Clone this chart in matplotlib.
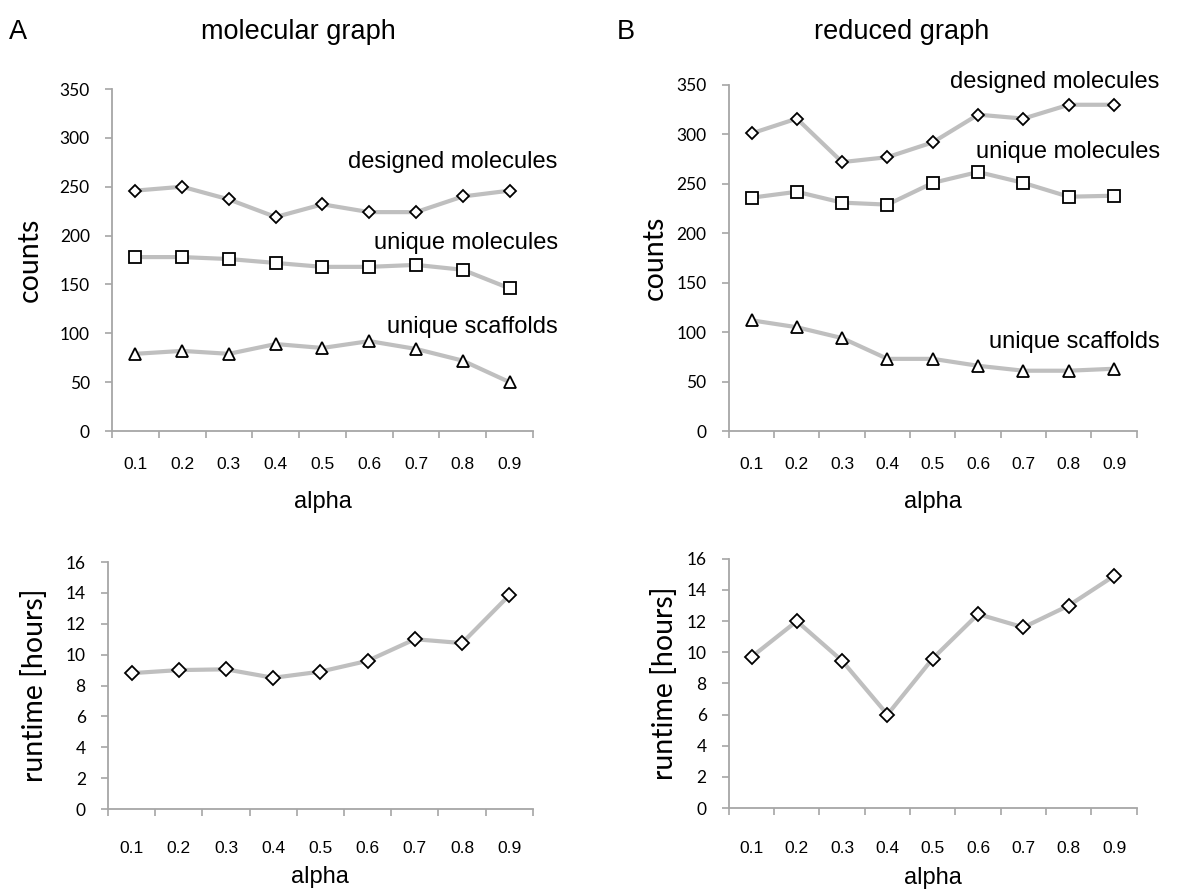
import matplotlib
matplotlib.use("Agg")
import matplotlib.pyplot as plt
import numpy as np

# alpha values on the x axis
alpha_labels = ["0.1", "0.2", "0.3", "0.4", "0.5", "0.6", "0.7", "0.8", "0.9"]

# (A) molecular graph
mol_designed = [246, 250, 237, 219, 232, 224, 224, 240, 246]
mol_unique = [178, 178, 176, 172, 168, 168, 170, 165, 146]
mol_scaffolds = [79, 82, 79, 89, 85, 92, 84, 72, 50]
mol_runtime = [8.8, 9.0, 9.05, 8.5, 8.9, 9.6, 11.0, 10.75, 13.85]

# (B) reduced graph
red_designed = [301, 316, 272, 277, 292, 320, 316, 330, 330]
red_unique = [236, 242, 231, 229, 251, 262, 251, 237, 238]
red_scaffolds = [112, 105, 94, 73, 73, 66, 61, 61, 63]
red_runtime = [9.7, 12.0, 9.45, 6.0, 9.6, 12.45, 11.6, 13.0, 14.9]

SANS = ["Liberation Sans", "DejaVu Sans"]
CAL = ["Lato", "DejaVu Sans"]

LINE_C = "#bfbfbf"
SPINE_C = "#a6a6a6"

fig = plt.figure(figsize=(11.89, 8.90), dpi=100)
fig.patch.set_facecolor("white")

x = np.arange(len(alpha_labels)) + 0.5


def style_axes(ax, ylim, yticks, ylabel, ylab_x, xlab_y, xpad):
    ax.set_xlim(0, len(alpha_labels))
    ax.set_ylim(*ylim)
    for s in ("top", "right"):
        ax.spines[s].set_visible(False)
    for s in ("left", "bottom"):
        ax.spines[s].set_color(SPINE_C)
        ax.spines[s].set_linewidth(1.3)
    # boundaries between categories carry the tick marks
    ax.set_xticks(np.arange(len(alpha_labels) + 1))
    ax.set_xticklabels([])
    ax.tick_params(axis="x", which="major", direction="out", length=5,
                   width=1.2, color=SPINE_C)
    # category labels sit at the centres
    ax.set_xticks(x, minor=True)
    ax.set_xticklabels(alpha_labels, minor=True, fontfamily=SANS, fontsize=12.5)
    ax.tick_params(axis="x", which="minor", length=0, pad=xpad)
    ax.set_yticks(yticks)
    ax.set_yticklabels([str(v) for v in yticks], fontfamily=CAL, fontsize=12.5)
    ax.tick_params(axis="y", direction="out", length=5, width=1.2,
                   color=SPINE_C, pad=11)
    ax.set_ylabel(ylabel, fontfamily=CAL, fontsize=20.5, va="center")
    ax.yaxis.set_label_coords(ylab_x, 0.5)
    ax.set_xlabel("alpha", fontfamily=SANS, fontsize=17, va="center")
    ax.xaxis.set_label_coords(0.5, xlab_y)


def series(ax, y, marker, ms):
    ax.plot(x, y, color=LINE_C, lw=3.0, marker=marker, ms=ms,
            mfc="white", mec="black", mew=1.3, clip_on=False, zorder=3)


# top left
ax1 = fig.add_axes([0.0942, 0.5157, 0.354, 0.3843])
style_axes(ax1, (0, 350), list(range(0, 351, 50)), "counts", -0.195, -0.208, 19)
series(ax1, mol_designed, "D", 6.2)
series(ax1, mol_unique, "s", 8.8)
series(ax1, mol_scaffolds, "^", 8.2)
ax1.text(9.53, 275, "designed molecules", ha="right", va="center",
         fontfamily=SANS, fontsize=17)
ax1.text(9.53, 192, "unique molecules", ha="right", va="center",
         fontfamily=SANS, fontsize=17)
ax1.text(9.53, 106, "unique scaffolds", ha="right", va="center",
         fontfamily=SANS, fontsize=17)

# top right
ax2 = fig.add_axes([0.613, 0.5157, 0.343, 0.3888])
style_axes(ax2, (0, 350), list(range(0, 351, 50)), "counts", -0.181, -0.205, 19)
series(ax2, red_designed, "D", 6.2)
series(ax2, red_unique, "s", 8.8)
series(ax2, red_scaffolds, "^", 8.2)
ax2.text(9.51, 353, "designed molecules", ha="right", va="center",
         fontfamily=SANS, fontsize=17)
ax2.text(9.51, 282, "unique molecules", ha="right", va="center",
         fontfamily=SANS, fontsize=17)
ax2.text(9.51, 90, "unique scaffolds", ha="right", va="center",
         fontfamily=SANS, fontsize=17)

# bottom left
ax3 = fig.add_axes([0.0908, 0.0910, 0.3574, 0.2775])
style_axes(ax3, (0, 16), list(range(0, 17, 2)), "runtime [hours]", -0.172, -0.275, 23)
series(ax3, mol_runtime, "D", 6.8)

# bottom right
ax4 = fig.add_axes([0.613, 0.0921, 0.343, 0.2800])
style_axes(ax4, (0, 16), list(range(0, 17, 2)), "runtime [hours]", -0.157, -0.281, 24)
series(ax4, red_runtime, "D", 6.8)

# panel letters and titles
fig.text(18 / 1189, 1 - 39 / 890, "A", ha="center", va="baseline",
         fontfamily=SANS, fontsize=19.5)
fig.text(298 / 1189, 1 - 39 / 890, "molecular graph", ha="center", va="baseline",
         fontfamily=SANS, fontsize=19.5)
fig.text(626 / 1189, 1 - 39 / 890, "B", ha="center", va="baseline",
         fontfamily=SANS, fontsize=19.5)
fig.text(902 / 1189, 1 - 39 / 890, "reduced graph", ha="center", va="baseline",
         fontfamily=SANS, fontsize=19.5)

fig.savefig("out.png", dpi=100, facecolor="white")
